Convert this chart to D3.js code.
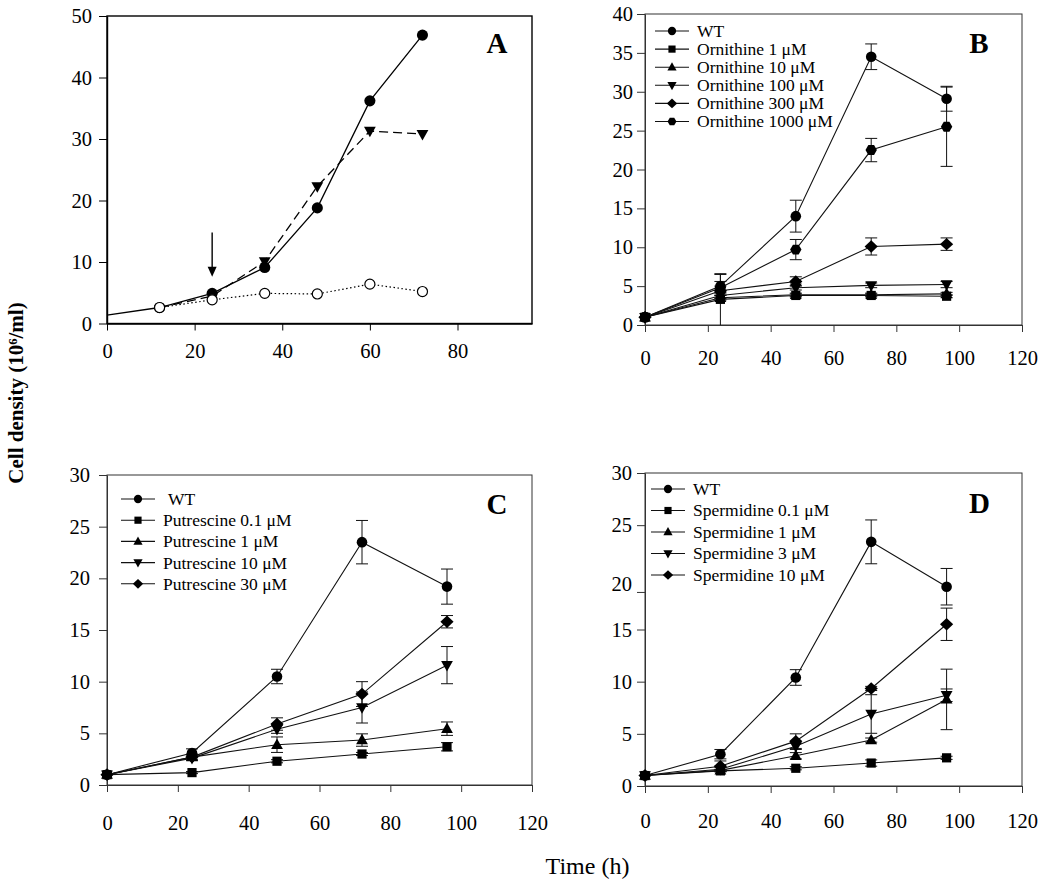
<!DOCTYPE html>
<html>
<head>
<meta charset="utf-8">
<script src="https://cdn.jsdelivr.net/npm/d3@7"></script>
<style>
  html, body { margin: 0; padding: 0; background: #fff; }
  svg { display: block; }
</style>
</head>
<body>
<svg id="chart" width="1050" height="887"></svg>
<script>
// ---------------- DATA ----------------
// Panel A
const timeA = [0, 12, 24, 36, 48, 60, 72];
const timeA2 = [12, 24, 36, 48, 60, 72];
const aSolid = [1.35, 2.6, 4.9, 9.1, 18.8, 36.2, 46.9];
const aDashed = [2.6, 4.45, 10.1, 22.3, 31.3, 30.8];
const aDotted = [2.6, 3.85, 4.9, 4.8, 6.4, 5.2];
const arrowA = { time: 24, from: 14.8, to: 7.6 };
const xTicksA = [0, 20, 40, 60, 80];
const yTicksA = [0, 10, 20, 30, 40, 50];

// Panels B, C, D share time points
const times = [0, 24, 48, 72, 96];
const xTicksBCD = [0, 20, 40, 60, 80, 100, 120];

// Panel B (Ornithine)
const labelsB = ["WT", "Ornithine 1 \u03bcM", "Ornithine 10 \u03bcM", "Ornithine 100 \u03bcM", "Ornithine 300 \u03bcM", "Ornithine 1000 \u03bcM"];
const bWT      = [1.0, 5.0, 14.0, 34.5, 29.1];
const bWTErr   = [0, 1.5, 2.05, 1.65, 1.6];
const bOrn1    = [1.0, 3.3, 3.8, 3.8, 3.7];
const bOrn1Err = [0, 3.3, 0.2, 0.2, 0.2];
const bOrn10   = [1.0, 3.5, 3.9, 3.9, 4.0];
const bOrn10Err = [0, 0.3, 0.2, 0.2, 0.2];
const bOrn100  = [1.0, 3.8, 4.8, 5.1, 5.2];
const bOrn100Err = [0, 0.4, 0.3, 0.3, 0.4];
const bOrn300  = [1.0, 4.4, 5.6, 10.1, 10.4];
const bOrn300Err = [0, 0.6, 0.6, 1.1, 0.8];
const bOrn1000 = [1.0, 4.8, 9.7, 22.5, 25.5];
const bOrn1000Err = [0, 0.8, 1.3, 1.5, 5.1];
const yTicksB = [0, 5, 10, 15, 20, 25, 30, 35, 40];

// Panel C (Putrescine)
const labelsC = ["WT", "Putrescine 0.1 \u03bcM", "Putrescine 1 \u03bcM", "Putrescine 10 \u03bcM", "Putrescine 30 \u03bcM"];
const cWT     = [1.0, 3.1, 10.5, 23.5, 19.2];
const cWTErr  = [0, 0.4, 0.7, 2.1, 1.7];
const cPut01  = [1.0, 1.2, 2.3, 3.0, 3.7];
const cPut01Err = [0, 0.1, 0.15, 0.15, 0.4];
const cPut1   = [1.0, 2.7, 3.9, 4.35, 5.45];
const cPut1Err = [0, 0.2, 0.75, 0.6, 0.65];
const cPut10  = [1.0, 2.6, 5.4, 7.5, 11.6];
const cPut10Err = [0, 0.2, 0.4, 1.5, 1.8];
const cPut30  = [1.0, 2.7, 5.9, 8.8, 15.8];
const cPut30Err = [0, 0.3, 0.6, 1.2, 0.6];
const yTicksC = [0, 5, 10, 15, 20, 25, 30];

// Panel D (Spermidine)
const labelsD = ["WT", "Spermidine 0.1 \u03bcM", "Spermidine 1 \u03bcM", "Spermidine 3 \u03bcM", "Spermidine 10 \u03bcM"];
const dWT     = [1.0, 3.05, 10.4, 23.4, 19.1];
const dWTErr  = [0, 0.45, 0.75, 2.1, 1.75];
const dSpd01  = [1.0, 1.45, 1.7, 2.2, 2.7];
const dSpd01Err = [0, 0.1, 0.15, 0.3, 0.15];
const dSpd1   = [1.0, 1.5, 2.9, 4.4, 8.3];
const dSpd1Err = [0, 0.1, 0.3, 0.2, 2.9];
const dSpd3   = [1.0, 1.6, 3.8, 6.9, 8.7];
const dSpd3Err = [0, 0.2, 0.3, 1.85, 0.6];
const dSpd10  = [1.0, 1.9, 4.3, 9.35, 15.5];
const dSpd10Err = [0, 0.5, 0.7, 0.2, 1.55];
// the "20" tick of panel D sits low in the original figure
const yTicksD = [0, 5, 10, 15, 18.6, 25, 30];
const yTickLabelsD = ["0", "5", "10", "15", "20", "25", "30"];

const yTitle = "Cell density (10\u2076/ml)";
const xTitle = "Time (h)";

// ---------------- DRAWING ----------------
const FONT = '"Liberation Serif","Times New Roman",Times,serif';
const svg = d3.select("#chart");

function markerPath(shape, s) {
  s = s || 1;
  switch (shape) {
    case "circle": { const r = 5.3 * s; return d3.symbol(d3.symbolCircle, Math.PI * r * r)(); }
    case "square": { const h = 4.6 * s; return `M${-h},${-h}H${h}V${h}H${-h}Z`; }
    case "triUp": return `M0,${-6.3 * s}L${5.9 * s},${4.2 * s}L${-5.9 * s},${4.2 * s}Z`;
    case "triDown": return `M0,${6.3 * s}L${5.9 * s},${-4.2 * s}L${-5.9 * s},${-4.2 * s}Z`;
    case "diamond": return `M0,${-6.2 * s}L${6.6 * s},0L0,${6.2 * s}L${-6.6 * s},0Z`;
    case "hex": {
      const r = 5.7 * s; let p = "";
      for (let i = 0; i < 6; i++) {
        const a = Math.PI / 3 * i;
        p += (i ? "L" : "M") + (r * Math.cos(a)).toFixed(2) + "," + (r * Math.sin(a)).toFixed(2);
      }
      return p + "Z";
    }
  }
}

function frame(g, p) {
  g.append("rect")
    .attr("x", p.left).attr("y", p.top)
    .attr("width", p.right - p.left).attr("height", p.bottom - p.top)
    .attr("fill", "none").attr("stroke", p.frameColor).attr("stroke-width", p.frameWidth);
}

function axes(g, p, x, y, xTicks, yTicks, yLabels) {
  const xa = g.append("g").attr("transform", `translate(0,${p.bottom})`)
    .call(d3.axisBottom(x).tickValues(xTicks).tickSize(7).tickSizeOuter(0).tickPadding(p.xPad).tickFormat(d3.format("d")));
  const ya = g.append("g").attr("transform", `translate(${p.left},0)`)
    .call(d3.axisLeft(y).tickValues(yTicks).tickSize(8).tickSizeOuter(0).tickPadding(p.yPad)
      .tickFormat((d, i) => yLabels ? yLabels[i] : d3.format("d")(d)));
  [xa, ya].forEach(a => {
    a.select(".domain").attr("stroke", p.frameColor).attr("stroke-width", p.frameWidth);
    a.selectAll(".tick line").attr("stroke", p.frameColor).attr("stroke-width", 1);
    a.selectAll(".tick text").attr("font-family", FONT).attr("font-size", 20.5).attr("fill", "#000");
  });
  return ya;
}

function panelLetter(g, txt, x, y) {
  g.append("text").attr("x", x).attr("y", y).attr("text-anchor", "middle")
    .attr("font-family", FONT).attr("font-weight", "bold").attr("font-size", 29).text(txt);
}

function drawPanel(p, series, labels, yTicks, yLabels, legend) {
  const g = svg.append("g");
  const x = d3.scaleLinear().domain(p.xDomain).range([p.left, p.right]);
  const y = d3.scaleLinear().domain(p.yDomain).range([p.bottom, p.top]);
  frame(g, p);
  const ya = axes(g, p, x, y, xTicksBCD, yTicks, yLabels);
  if (p.tweakTick) {
    ya.selectAll(".tick").filter(d => d === p.tweakTick.value).select("text").attr("dy", p.tweakTick.dy);
  }
  const line = d3.line().x((d, i) => x(times[i])).y(d => y(d));
  // error bars
  series.forEach(s => {
    s.values.forEach((v, i) => {
      const e = s.err[i];
      if (!e) return;
      const cx = x(times[i]);
      const y1 = y(v + e), y0 = y(Math.max(0, v - e));
      g.append("line").attr("x1", cx).attr("x2", cx).attr("y1", y1).attr("y2", y0).attr("stroke", "#111").attr("stroke-width", 1);
      g.append("line").attr("x1", cx - 6).attr("x2", cx + 6).attr("y1", y1).attr("y2", y1).attr("stroke", "#111").attr("stroke-width", 1);
      if (v - e > 0.05) g.append("line").attr("x1", cx - 6).attr("x2", cx + 6).attr("y1", y0).attr("y2", y0).attr("stroke", "#111").attr("stroke-width", 1);
    });
  });
  series.forEach(s => {
    g.append("path").attr("d", line(s.values)).attr("fill", "none").attr("stroke", "#111").attr("stroke-width", 1.1);
  });
  series.forEach(s => {
    s.values.forEach((v, i) => {
      g.append("path").attr("d", markerPath(s.shape)).attr("transform", `translate(${x(times[i])},${y(v)})`).attr("fill", "#000");
    });
  });
  // legend
  labels.forEach((lab, i) => {
    const ly = legend.y0 + i * legend.dy;
    g.append("line").attr("x1", legend.x1).attr("x2", legend.x2).attr("y1", ly).attr("y2", ly).attr("stroke", "#111").attr("stroke-width", 1.1);
    g.append("path").attr("d", markerPath(series[i].shape, 0.78)).attr("transform", `translate(${(legend.x1 + legend.x2) / 2},${ly})`).attr("fill", "#000");
    g.append("text").attr("x", legend.tx + (i === 0 ? legend.wtShift : 0)).attr("y", ly).attr("dy", "0.34em")
      .attr("font-family", FONT).attr("font-size", 17.5).text(lab);
  });
  panelLetter(g, p.letter, p.letterX, p.letterY);
}

// ---- Panel A ----
(function () {
  const p = { left: 107, right: 532, top: 16, bottom: 323.5, xDomain: [0, 97], yDomain: [0, 50], xPad: 13, yPad: 7, frameColor: "#000", frameWidth: 1.4 };
  const g = svg.append("g");
  const x = d3.scaleLinear().domain(p.xDomain).range([p.left, p.right]);
  const y = d3.scaleLinear().domain(p.yDomain).range([p.bottom, p.top]);
  frame(g, p);
  axes(g, p, x, y, xTicksA, yTicksA, null);

  const lineA = t => d3.line().x((d, i) => x(t[i])).y(d => y(d));
  g.append("path").attr("d", lineA(timeA2)(aDashed)).attr("fill", "none").attr("stroke", "#000").attr("stroke-width", 1.3).attr("stroke-dasharray", "9,5");
  g.append("path").attr("d", lineA(timeA)(aSolid)).attr("fill", "none").attr("stroke", "#000").attr("stroke-width", 1.3);
  g.append("path").attr("d", lineA(timeA2)(aDotted)).attr("fill", "none").attr("stroke", "#000").attr("stroke-width", 1.2).attr("stroke-dasharray", "1.5,2.5");

  aDashed.forEach((v, i) => { if (i >= 2) g.append("path").attr("d", markerPath("triDown", 1.0)).attr("transform", `translate(${x(timeA2[i])},${y(v)})`).attr("fill", "#000"); });
  aSolid.forEach((v, i) => { if (i >= 1) g.append("path").attr("d", markerPath("circle", 1.05)).attr("transform", `translate(${x(timeA[i])},${y(v)})`).attr("fill", "#000"); });
  aDotted.forEach((v, i) => { g.append("path").attr("d", markerPath("circle", 0.95)).attr("transform", `translate(${x(timeA2[i])},${y(v)})`).attr("fill", "#fff").attr("stroke", "#000").attr("stroke-width", 1.2); });

  // arrow
  const ax = x(arrowA.time), ay0 = y(arrowA.from), ay1 = y(arrowA.to);
  g.append("line").attr("x1", ax).attr("x2", ax).attr("y1", ay0).attr("y2", ay1 - 9).attr("stroke", "#000").attr("stroke-width", 1.4);
  g.append("path").attr("d", `M${ax},${ay1}L${ax - 4.5},${ay1 - 10}L${ax + 4.5},${ay1 - 10}Z`).attr("fill", "#000");

  panelLetter(g, "A", 497, 52.5);
})();

// ---- Panel B ----
drawPanel(
  { left: 645, right: 1022, top: 14, bottom: 325, xDomain: [0, 120], yDomain: [0, 40], xPad: 18, yPad: 4, frameColor: "#333", frameWidth: 1, letter: "B", letterX: 979, letterY: 52.5 },
  [
    { values: bWT, err: bWTErr, shape: "circle" },
    { values: bOrn1, err: bOrn1Err, shape: "square" },
    { values: bOrn10, err: bOrn10Err, shape: "triUp" },
    { values: bOrn100, err: bOrn100Err, shape: "triDown" },
    { values: bOrn300, err: bOrn300Err, shape: "diamond" },
    { values: bOrn1000, err: bOrn1000Err, shape: "hex" }
  ],
  labelsB, yTicksB, null,
  { x1: 655, x2: 689, tx: 697, y0: 31, dy: 18.1, wtShift: 0 }
);

// ---- Panel C ----
drawPanel(
  { left: 107, right: 532, top: 475, bottom: 785, xDomain: [0, 120], yDomain: [0, 30], xPad: 23, yPad: 9, frameColor: "#333", frameWidth: 1, letter: "C", letterX: 497, letterY: 514 },
  [
    { values: cWT, err: cWTErr, shape: "circle" },
    { values: cPut01, err: cPut01Err, shape: "square" },
    { values: cPut1, err: cPut1Err, shape: "triUp" },
    { values: cPut10, err: cPut10Err, shape: "triDown" },
    { values: cPut30, err: cPut30Err, shape: "diamond" }
  ],
  labelsC, yTicksC, null,
  { x1: 121, x2: 155, tx: 163, y0: 499, dy: 21.2, wtShift: 5 }
);

// ---- Panel D ----
drawPanel(
  { left: 645, right: 1022, top: 473, bottom: 786, xDomain: [0, 120], yDomain: [0, 30], xPad: 20, yPad: 5, frameColor: "#333", frameWidth: 1, letter: "D", letterX: 979.5, letterY: 512.5, tweakTick: { value: 18.6, dy: "-0.05em" } },
  [
    { values: dWT, err: dWTErr, shape: "circle" },
    { values: dSpd01, err: dSpd01Err, shape: "square" },
    { values: dSpd1, err: dSpd1Err, shape: "triUp" },
    { values: dSpd3, err: dSpd3Err, shape: "triDown" },
    { values: dSpd10, err: dSpd10Err, shape: "diamond" }
  ],
  labelsD, yTicksD, yTickLabelsD,
  { x1: 651, x2: 685, tx: 693, y0: 489, dy: 21.5, wtShift: 0 }
);

// ---- shared axis titles ----
svg.append("text").attr("transform", "translate(23,393) rotate(-90)").attr("text-anchor", "middle")
  .attr("font-family", FONT).attr("font-weight", "bold").attr("font-size", 21).text(yTitle);
svg.append("text").attr("x", 587.5).attr("y", 874).attr("text-anchor", "middle")
  .attr("font-family", FONT).attr("font-size", 24).text(xTitle);
</script>
</body>
</html>
